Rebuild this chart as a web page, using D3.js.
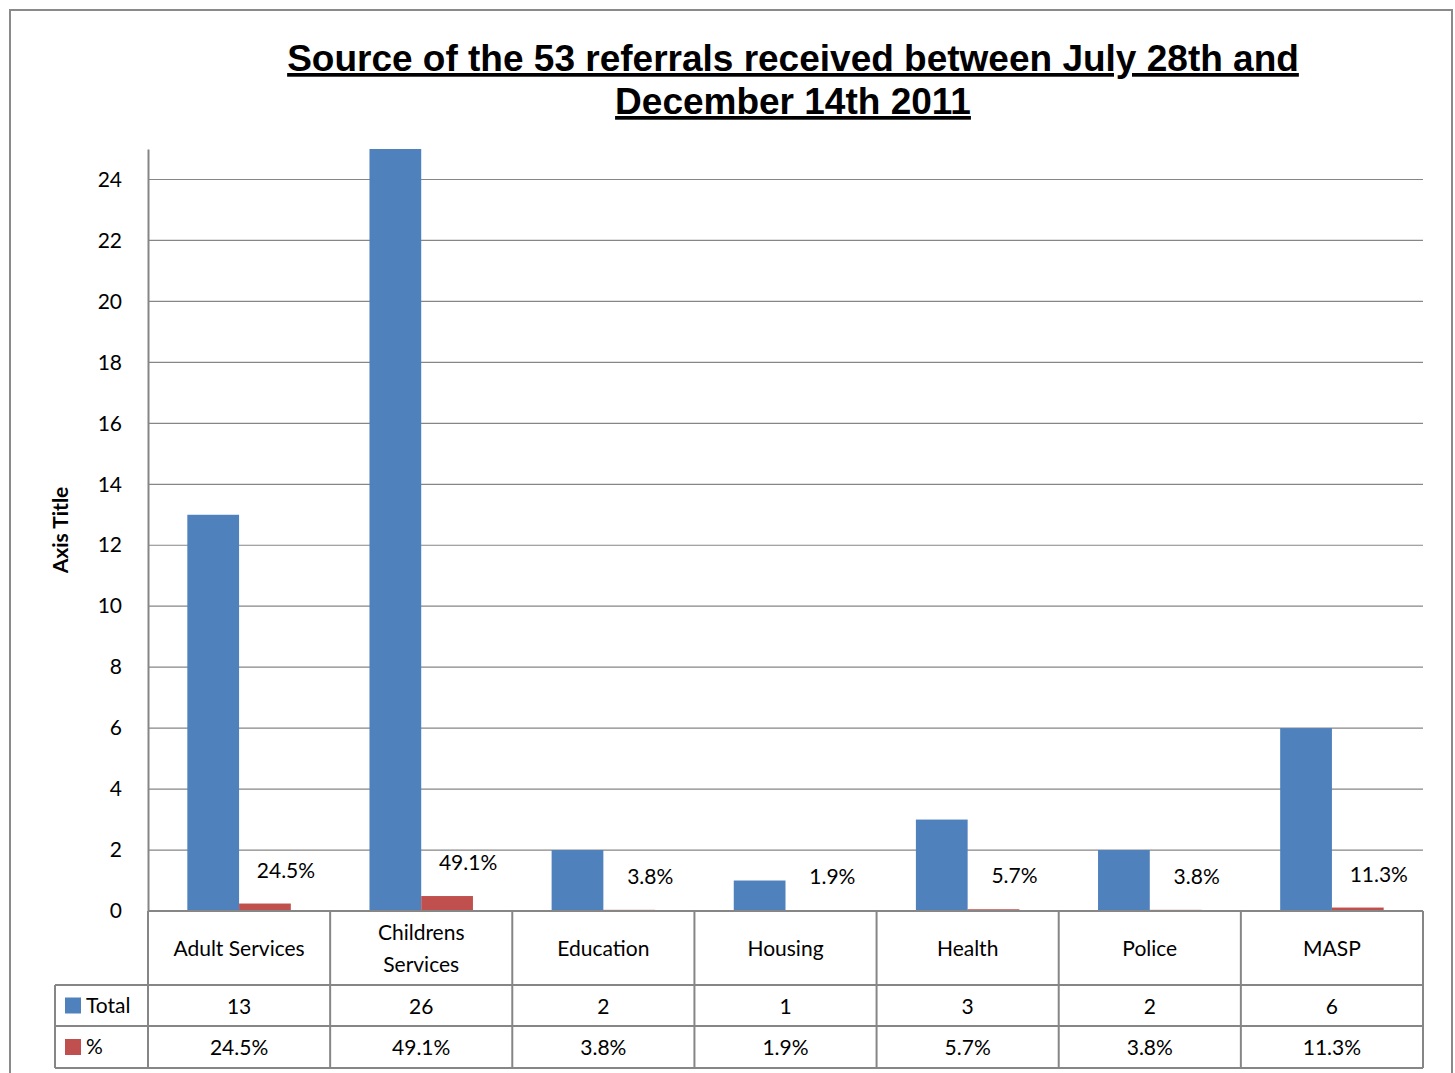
<!DOCTYPE html>
<html>
<head>
<meta charset="utf-8">
<script src="https://cdn.jsdelivr.net/npm/d3@7"></script>
<style>
  body { margin: 0; background: #fff; }
  svg { display: block; }
</style>
</head>
<body>
<div id="chart"></div>
<script>
const categories = ["Adult Services", "Childrens Services", "Education", "Housing", "Health", "Police", "MASP"];
const totals = [13, 26, 2, 1, 3, 2, 6];
const percents = [24.5, 49.1, 3.8, 1.9, 5.7, 3.8, 11.3];
const yTicks = [0, 2, 4, 6, 8, 10, 12, 14, 16, 18, 20, 22, 24];
const titleLines = ["Source of the 53 referrals received between July 28th and", "December 14th 2011"];

const W = 1455, H = 1073;
const margin = { top: 149, left: 148, right: 32, bottom: 162 };
const plotW = W - margin.left - margin.right;
const plotH = H - margin.top - margin.bottom;
const blue = "#4F81BD", red = "#C0504D", gridCol = "#868686";
const font = "Lato, 'Open Sans', sans-serif";

const svg = d3.select("#chart").append("svg")
  .attr("width", W).attr("height", H);

// outer chart border
svg.append("rect")
  .attr("x", 10).attr("y", 10).attr("width", 1442).attr("height", 1080)
  .attr("fill", "none").attr("stroke", "#8a8a8a").attr("stroke-width", 2);

// title
titleLines.forEach((t, i) => {
  svg.append("text")
    .attr("x", 793).attr("y", 71 + i * 43)
    .attr("text-anchor", "middle")
    .attr("font-family", "'Liberation Sans', Arial, sans-serif")
    .attr("font-weight", "bold")
    .attr("font-size", 37)
    .attr("text-decoration", "underline")
    .text(t);
});

const g = svg.append("g").attr("transform", `translate(${margin.left},${margin.top})`);

const x0 = d3.scaleBand().domain(categories).range([0, plotW]).paddingInner(0).paddingOuter(0);
const x1 = d3.scaleBand().domain(["total", "pct"]).range([0, x0.bandwidth()]).paddingOuter(0.76).paddingInner(0);
const y = d3.scaleLinear().domain([0, 25]).range([plotH, 0]);

// gridlines
g.append("g")
  .selectAll("line").data(yTicks.filter(d => d > 0)).join("line")
  .attr("x1", 0).attr("x2", plotW)
  .attr("y1", d => y(d)).attr("y2", d => y(d))
  .attr("stroke", gridCol).attr("stroke-width", 1.2);

// y axis
const yAxis = g.append("g").call(d3.axisLeft(y).tickValues(yTicks).tickSize(0).tickPadding(26));
yAxis.select(".domain").attr("stroke", gridCol).attr("stroke-width", 2);
yAxis.selectAll("text").attr("font-family", font).attr("font-size", 21).attr("fill", "#000");

g.append("defs").append("clipPath").attr("id", "plotclip")
  .append("rect").attr("width", plotW).attr("height", plotH);

const bars = g.append("g").attr("clip-path", "url(#plotclip)");
bars.selectAll("rect.total").data(categories).join("rect")
  .attr("class", "total")
  .attr("x", (d) => x0(d) + x1("total"))
  .attr("width", x1.bandwidth())
  .attr("y", (d, i) => y(totals[i]))
  .attr("height", (d, i) => plotH - y(totals[i]))
  .attr("fill", blue);
bars.selectAll("rect.pct").data(categories).join("rect")
  .attr("class", "pct")
  .attr("x", (d) => x0(d) + x1("pct"))
  .attr("width", x1.bandwidth())
  .attr("y", (d, i) => y(percents[i] / 100))
  .attr("height", (d, i) => plotH - y(percents[i] / 100))
  .attr("fill", red);

// data labels
g.selectAll("text.lbl").data(categories).join("text")
  .attr("class", "lbl")
  .attr("x", d => x0(d) + x1("pct") + x1.bandwidth() / 2 + 21)
  .attr("y", (d, i) => y(percents[i] / 100) - 26)
  .attr("text-anchor", "middle")
  .attr("font-family", font).attr("font-size", 21)
  .text((d, i) => percents[i].toFixed(1) + "%");

// axis line at bottom
g.append("line").attr("x1", 0).attr("x2", plotW).attr("y1", plotH).attr("y2", plotH)
  .attr("stroke", gridCol).attr("stroke-width", 2);

// axis title
svg.append("text")
  .attr("transform", `translate(68,530) rotate(-90)`)
  .attr("text-anchor", "middle")
  .attr("font-family", font).attr("font-weight", "bold").attr("font-size", 21)
  .text("Axis Title");

// data table
const tableTop = margin.top + plotH;
const rowH = [74, 41, 42];
const rowY = [tableTop, tableTop + rowH[0], tableTop + rowH[0] + rowH[1], tableTop + rowH[0] + rowH[1] + rowH[2]];
const legendLeft = 55 - margin.left;
const lineStyle = sel => sel.attr("stroke", gridCol).attr("stroke-width", 2);

// horizontal lines
[rowY[1], rowY[2], rowY[3]].forEach(yy => {
  g.append("line").attr("x1", legendLeft).attr("x2", plotW)
    .attr("y1", yy - margin.top).attr("y2", yy - margin.top).call(lineStyle);
});
// vertical lines
const bounds = categories.map(c => x0(c)).concat([plotW]);
g.selectAll("line.vb").data(bounds).join("line")
  .attr("class", "vb")
  .attr("x1", d => d).attr("x2", d => d)
  .attr("y1", plotH).attr("y2", rowY[3] - margin.top)
  .call(lineStyle);
g.append("line").attr("x1", legendLeft).attr("x2", legendLeft)
  .attr("y1", rowY[1] - margin.top).attr("y2", rowY[3] - margin.top).call(lineStyle);

// category labels
g.selectAll("text.cat").data(categories).join("text")
  .attr("class", "cat")
  .attr("text-anchor", "middle")
  .attr("font-family", font).attr("font-size", 21)
  .each(function (d) {
    const t = d3.select(this);
    const cx = x0(d) + x0.bandwidth() / 2;
    const lines = d === "Childrens Services" ? ["Childrens", "Services"] : [d];
    const mid = plotH + rowH[0] / 2;
    lines.forEach((ln, i) => {
      t.append("tspan").attr("x", cx)
        .attr("y", mid + 8 + (i - (lines.length - 1) / 2) * 32)
        .text(ln);
    });
  });

// value rows
const rows = [
  { name: "Total", color: blue, vals: totals.map(String) },
  { name: "%", color: red, vals: percents.map(v => v.toFixed(1) + "%") }
];
rows.forEach((r, ri) => {
  const top = rowY[ri + 1] - margin.top;
  const mid = top + rowH[ri + 1] / 2;
  g.append("rect").attr("x", legendLeft + 10).attr("y", mid - 8)
    .attr("width", 16).attr("height", 16).attr("fill", r.color);
  g.append("text").attr("x", legendLeft + 31).attr("y", mid + 7)
    .attr("font-family", font).attr("font-size", 21).text(r.name);
  g.selectAll(null).data(categories).join("text")
    .attr("x", d => x0(d) + x0.bandwidth() / 2)
    .attr("y", mid + 8)
    .attr("text-anchor", "middle")
    .attr("font-family", font).attr("font-size", 21)
    .text((d, i) => r.vals[i]);
});
</script>
</body>
</html>
